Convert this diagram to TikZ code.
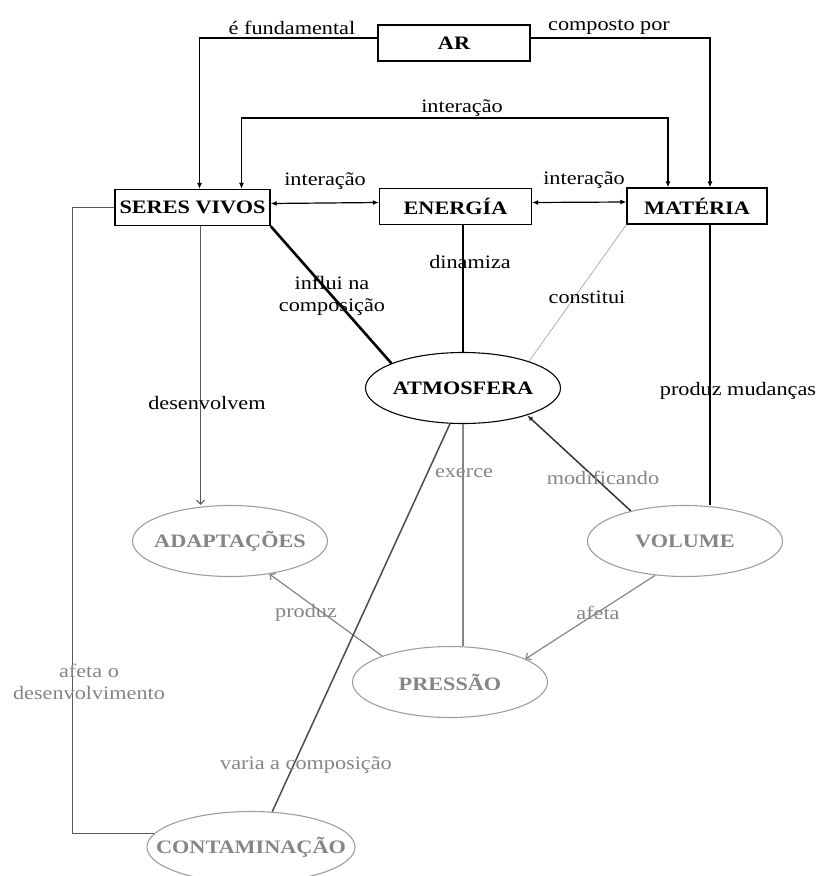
\documentclass[tikz,border=0pt]{standalone}
\usepackage{fontspec}
\setmainfont{Liberation Serif}[FakeStretch=1.17]
\usetikzlibrary{shapes.geometric,arrows.meta}
\definecolor{fade}{gray}{0.52}
\definecolor{faint}{gray}{0.62}
\tikzset{
    box/.style={draw,line width=1.3pt,minimum width=152pt,minimum height=36pt,inner sep=0pt,
        font=\fontsize{19}{22}\selectfont\bfseries},
    ell/.style={draw,ellipse,line width=1.1pt,minimum width=195pt,minimum height=71pt,inner sep=0pt},
    lbl/.style={font=\fontsize{19}{22}\selectfont,align=center,inner sep=0pt},
    glbl/.style={lbl,text=fade},
    bname/.style={font=\fontsize{19}{22}\selectfont\bfseries,inner sep=0pt},
    gname/.style={bname,text=fade},
    tip/.style={-{Latex[length=6pt,width=5pt]}},
    tips/.style={{Latex[length=6pt,width=5pt]}-{Latex[length=6pt,width=5pt]}},
    barb/.style={-{Straight Barb[length=4pt,width=8pt]}}
}
\begin{document}
\begin{tikzpicture}[x=1pt,y=-1pt,line width=1.2pt]
        \useasboundingbox (0,0) rectangle (822,876);
        %boxes
        \node[box] (ar) at (454,43) {AR};
        \node[box,minimum width=155pt] (seres) at (192.5,207.5) {SERES VIVOS};
        \node[box] (energia) at (455.5,206.5) {ENERGÍA};
        \node[box,minimum width=140pt] (materia) at (697,206) {MATÉRIA};
        %ellipses
        \node[ell,label={[bname]center:ATMOSFERA}] (atm) at (463,388) {};
        \node[ell,draw=faint,label={[gname]center:ADAPTAÇÕES}] (adapt) at (230,541) {};
        \node[ell,draw=faint,label={[gname]center:VOLUME}] (volume) at (685,541) {};
        \node[ell,draw=faint,label={[gname]center:PRESSÃO}] (pressao) at (450,682) {};
        \node[ell,draw=faint,minimum width=208pt,label={[gname]center:CONTAMINAÇÃO}] (cont) at (251,847) {};
        %top connectors
        \coordinate (itop) at (455,118);
        \draw[tip] ([yshift=5pt]ar.west) -| ([xshift=7pt]seres.north);
        \draw[tip] ([yshift=5pt]ar.east) -| ([xshift=13pt]materia.north);
        \draw[tips] ([xshift=49pt]seres.north) |- (itop) -| ([xshift=-29pt]materia.north);
        \draw[tips] ([yshift=4pt]seres.east) -- ([yshift=4pt]energia.west);
        \draw[tips] ([yshift=4pt]energia.east) -- ([yshift=4pt]materia.west);
        %lines round atmosfera
        \draw[line width=2.6pt] (seres.south east) -- (atm.161);
        \draw[line width=1.5pt] (atm.north) -- (atm.north |- energia.south);
        \draw[line width=0.6pt,faint] (materia.south west) -- (atm.22);
        \draw[line width=1.5pt] ([xshift=13pt]materia.south) -- ([xshift=13pt]materia.south |- volume.north);
        \draw[barb,black!65] ([xshift=8pt]seres.south) -- ([xshift=8pt]seres.south |- adapt.north);
        \draw[black!65] (seres.west) -- ++(-42,0) |- (cont.172);
        \draw[tip,line width=1.5pt,black!80] (volume.151) -- (atm.337);
        \draw[line width=1.5pt,fade] (atm.south) -- (atm.south |- pressao.north);
        \draw[barb,fade] (pressao.159) -- (adapt.320);
        \draw[barb,fade] (volume.229) -- (pressao.17);
        \draw[line width=1.5pt,black!70] (cont.59) -- (atm.250);
        %labels
        \node[lbl] (lfund) at (292,28) {é fundamental};
        \node[lbl] (lcomp) at (609,27) {composto por};
        \node[lbl] (lint1) at (462,108) {interação};
        \node[lbl] (lint2) at (325,181) {interação};
        \node[lbl] (lint3) at (584,180) {interação};
        \node[lbl] (linf) at (332,296) {influi na\\composição};
        \node[lbl] (ldin) at (470,262) {dinamiza};
        \node[lbl] (lcons) at (587,297) {constitui};
        \node[lbl] (ldes) at (207,403) {desenvolvem};
        \node[lbl] (lmud) at (738,391) {produz mudanças};
        \node[glbl] (lexe) at (464,473) {exerce};
        \node[glbl] (lmod) at (603,478) {modificando};
        \node[glbl] (lprod) at (306,613) {produz};
        \node[glbl] (lafe) at (598,613) {afeta};
        \node[glbl] (ldev) at (89,682) {afeta o\\desenvolvimento};
        \node[glbl] (lvar) at (306,765) {varia a composição};
\end{tikzpicture}
\end{document}
